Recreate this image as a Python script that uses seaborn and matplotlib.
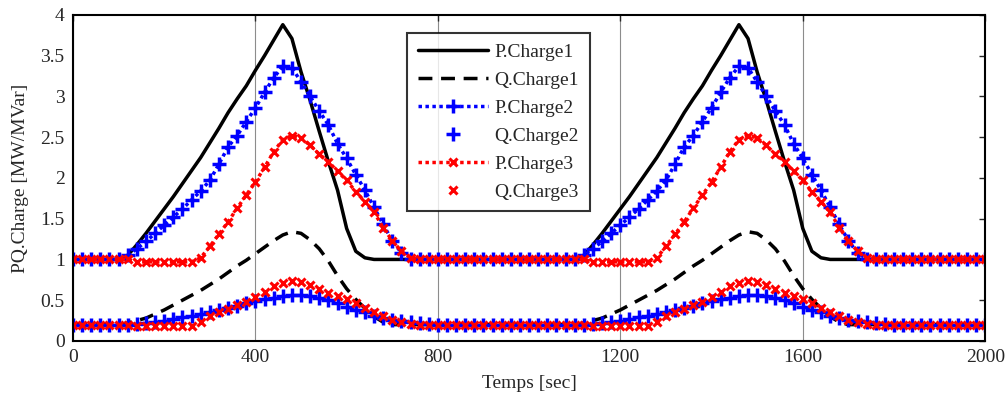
import numpy as np
import pandas as pd
import matplotlib
matplotlib.use("Agg")
import matplotlib.pyplot as plt
import seaborn as sns
from matplotlib.ticker import FuncFormatter

# ---- data: one 1000 s load cycle sampled every 20 s (t = 0..980), repeated twice ----
t_step = 20
cycle_len = 1000
n_cycles = 2

p_charge1 = [1.0] * 6 + [1.05, 1.18, 1.32, 1.47, 1.62, 1.77, 1.93, 2.09, 2.25, 2.43, 2.61, 2.80,
                         2.97, 3.13, 3.32, 3.50, 3.69, 3.88, 3.71, 3.30, 2.95, 2.57, 2.20, 1.85,
                         1.38, 1.10, 1.02] + [1.0] * 17
q_charge1 = [0.2] * 6 + [0.22, 0.25, 0.28, 0.33, 0.38, 0.44, 0.50, 0.56, 0.62, 0.69, 0.76, 0.84,
                         0.92, 0.99, 1.07, 1.15, 1.23, 1.30, 1.34, 1.32, 1.24, 1.13, 0.98, 0.80,
                         0.64, 0.51, 0.40, 0.30, 0.23] + [0.2] * 15
p_charge2 = [1.0] * 6 + [1.05, 1.13, 1.22, 1.32, 1.42, 1.52, 1.62, 1.73, 1.84, 1.97, 2.17, 2.38,
                         2.52, 2.69, 2.86, 3.05, 3.23, 3.37, 3.35, 3.18, 3.00, 2.82, 2.65, 2.42,
                         2.24, 2.04, 1.85, 1.64, 1.43, 1.23, 1.08, 1.01] + [1.0] * 12
q_charge2 = [0.2] * 7 + [0.21, 0.22, 0.23, 0.25, 0.27, 0.29, 0.31, 0.33, 0.35, 0.38, 0.40, 0.43,
                         0.46, 0.49, 0.51, 0.53, 0.55, 0.56, 0.56, 0.55, 0.53, 0.50, 0.46, 0.42,
                         0.38, 0.35, 0.31, 0.28, 0.26, 0.24, 0.23, 0.22, 0.21] + [0.2] * 10
p_charge3 = [1.0] * 7 + [0.97] * 7 + [1.02, 1.16, 1.31, 1.46, 1.63, 1.79, 1.95, 2.13, 2.32, 2.47,
                                      2.52, 2.49, 2.40, 2.29, 2.20, 2.08, 1.97, 1.83, 1.71, 1.58,
                                      1.39, 1.23, 1.10, 1.02] + [1.0] * 12
q_charge3 = [0.2] * 7 + [0.18] * 7 + [0.23, 0.30, 0.35, 0.39, 0.44, 0.48, 0.54, 0.60, 0.67, 0.71,
                                      0.73, 0.72, 0.69, 0.64, 0.59, 0.55, 0.51, 0.46, 0.40, 0.36,
                                      0.30, 0.26, 0.23, 0.21] + [0.2] * 12

labels = ["P.Charge1", "Q.Charge1", "P.Charge2", "Q.Charge2", "P.Charge3", "Q.Charge3"]
x_ticks = [0, 400, 800, 1200, 1600, 2000]
y_ticks = [0, 0.5, 1, 1.5, 2, 2.5, 3, 3.5, 4]

t = np.arange(0, cycle_len * n_cycles + 1, t_step)


def full(cyc):
    return np.concatenate([np.tile(cyc, n_cycles), [cyc[0]]])


df = pd.DataFrame({"t": t})
for lab, cyc in zip(labels, [p_charge1, q_charge1, p_charge2, q_charge2, p_charge3, q_charge3]):
    df[lab] = full(cyc)

# ---- style ----
sns.set_style("white")
plt.rcParams["font.family"] = ["Liberation Serif", "DejaVu Serif"]
plt.rcParams["font.size"] = 14

fig = plt.figure(figsize=(10.08, 4.03), dpi=100)
ax = fig.add_axes([0.0724, 0.154, 0.905, 0.809])
ax.set_axisbelow(True)

BLUE = "#0000ff"
RED = "#ff0000"
styles = {
    "P.Charge1": dict(color="black", linestyle="-", linewidth=2.5),
    "Q.Charge1": dict(color="black", linestyle=(0, (4, 2.5)), linewidth=2.5),
    "P.Charge2": dict(color=BLUE, linestyle=(0, (1, 1)), linewidth=2.5,
                      marker="+", markersize=10, markeredgewidth=2.5, markeredgecolor=BLUE),
    "Q.Charge2": dict(color=BLUE, linestyle="None",
                      marker="+", markersize=10, markeredgewidth=2.5, markeredgecolor=BLUE),
    "P.Charge3": dict(color=RED, linestyle=(0, (1, 1)), linewidth=2.5,
                      marker="x", markersize=6, markeredgewidth=2.2, markeredgecolor=RED),
    "Q.Charge3": dict(color=RED, linestyle="None",
                      marker="x", markersize=6, markeredgewidth=2.2, markeredgecolor=RED),
}

for lab in labels:
    sns.lineplot(data=df, x="t", y=lab, ax=ax, label=lab, errorbar=None, **styles[lab])

ax.set_xlim(0, 2000)
ax.set_ylim(0, 4)
ax.set_xticks(x_ticks)
ax.set_yticks(y_ticks)
ax.yaxis.set_major_formatter(FuncFormatter(lambda v, p: f"{v:g}"))
ax.tick_params(direction="in", top=True, right=True, length=4, width=1, labelsize=14, pad=6)
ax.xaxis.grid(True, color="#8c8c8c", linewidth=0.8)
ax.yaxis.grid(False)
for s in ax.spines.values():
    s.set_color("black")
    s.set_linewidth(1.5)

ax.set_xlabel("Temps [sec]", fontsize=14, labelpad=6)
ax.set_ylabel("PQ.Charge [MW/MVar]", fontsize=14, labelpad=8)

leg = ax.legend(loc="upper left", bbox_to_anchor=(0.366, 0.945), numpoints=1,
                handlelength=3.6, handletextpad=0.35, labelspacing=0.53,
                borderpad=0.55, borderaxespad=0, fancybox=False, frameon=True, fontsize=14)
leg.get_frame().set_edgecolor("black")
leg.get_frame().set_linewidth(1.5)

fig.savefig("out.png", dpi=100)
